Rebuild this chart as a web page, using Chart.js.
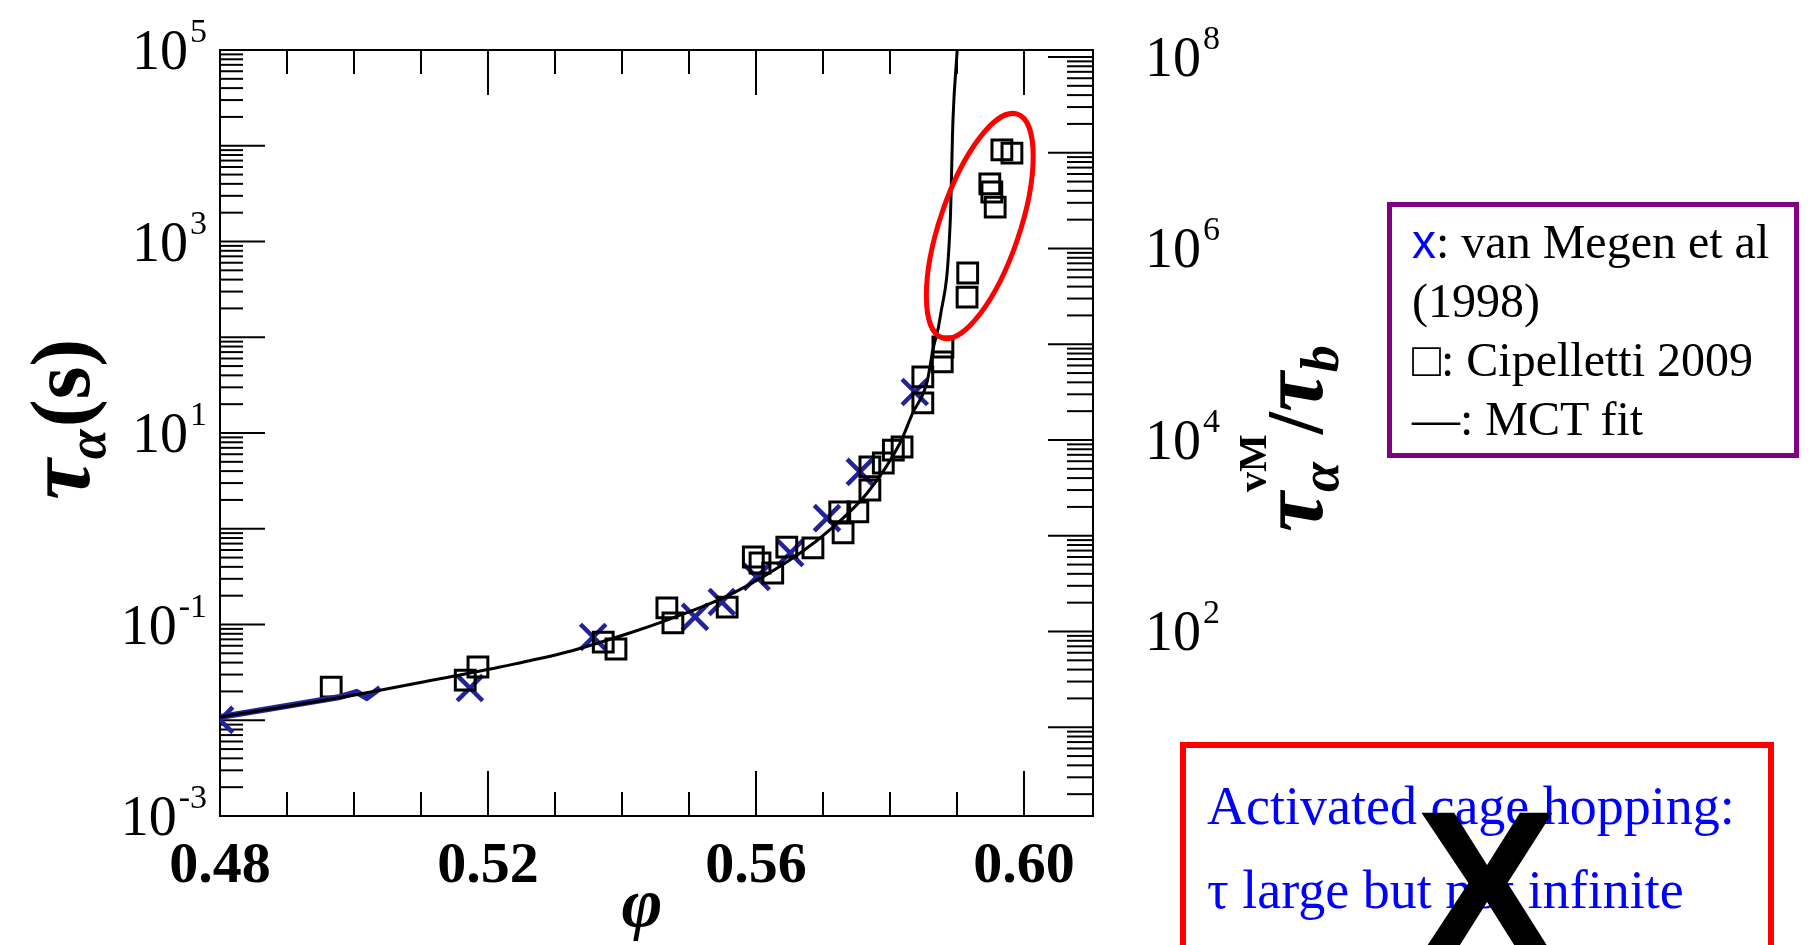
<!DOCTYPE html>
<html>
<head>
<meta charset="utf-8">
<title>tau alpha vs phi</title>
<script src="https://cdn.jsdelivr.net/npm/chart.js@4.4.1/dist/chart.umd.min.js"></script>
<style>
    html, body { margin: 0; padding: 0; background: #fff; }
    #wrap { position: relative; width: 1808px; height: 945px; overflow: hidden; background: #fff; }
    #chart-tau { position: absolute; left: 0; top: 0; }
    .legend-box {
        position: absolute; left: 1387px; top: 202px;
        border: 5px solid #800080; box-sizing: content-box;
        font-family: "Liberation Serif", "Times New Roman", serif; font-size: 48px; line-height: 59px;
        padding: 5px 0 0 20px; color: #000; width: 382px; height: 241px;
    }
    .legend-box .x { font-family: "Liberation Sans", Arial, sans-serif; color: #0000ff; }
    .note-box {
        position: absolute; left: 1180px; top: 742px; width: 582px; height: 260px;
        border: 6px solid #ff0000; color: #0000ff;
        font-family: "Liberation Serif", "Times New Roman", serif; font-size: 54px;
    }
    .note-box .l1 { position: absolute; left: 21px; top: 27px; white-space: nowrap; }
    .note-box .l2 { position: absolute; left: 21px; top: 111px; white-space: nowrap; }
    .big-x {
        position: absolute; left: 1387px; top: 779px; width: 200px; text-align: center;
        font-family: "Liberation Sans", Arial, sans-serif; font-weight: bold; font-size: 215px; line-height: 215px; color: #000;
    }
</style>
</head>
<body>
<div id="wrap">
    <canvas id="chart-tau" width="1808" height="945"></canvas>
    <div class="legend-box">
        <div><span class="x">x</span>: van Megen et al</div>
        <div>(1998)</div>
        <div>□: Cipelletti 2009</div>
        <div>—: MCT fit</div>
    </div>
    <div class="note-box">
        <div class="l1">Activated cage hopping:</div>
        <div class="l2">τ large but not infinite</div>
    </div>
    <div class="big-x">X</div>
</div>

<script>
// axis ticks
var phi_major = [0.48, 0.52, 0.56, 0.60];
var phi_labels = ["0.48", "0.52", "0.56", "0.60"];
var phi_minor = [0.49, 0.50, 0.51, 0.53, 0.54, 0.55, 0.57, 0.58, 0.59];
var tau_label_exp = [5, 3, 1, -1, -3];
var tau_decades = [-3, -2, -1, 0, 1, 2, 3, 4];
var ratio_label_exp = [8, 6, 4, 2];
var ratio_decades = [0, 1, 2, 3, 4, 5, 6, 7, 8];
var log_minor = [2, 3, 4, 5, 6, 7, 8, 9];

// Cipelletti 2009 (squares)
var cip_phi = [0.4966, 0.5166, 0.5185, 0.5372, 0.5391, 0.5467, 0.5476, 0.5557, 0.5596, 0.5606,
    0.5625, 0.5646, 0.5685, 0.5725, 0.5730, 0.5752, 0.5770, 0.5770, 0.5790, 0.5805,
    0.5818, 0.5849, 0.5849, 0.5878, 0.5879, 0.5915, 0.5916, 0.5952, 0.5957, 0.5949,
    0.5967, 0.5982];
var cip_tau = [0.0222, 0.0263, 0.0360, 0.0656, 0.0555, 0.149, 0.104, 0.152, 0.507, 0.439,
    0.345, 0.644, 0.630, 1.50, 0.904, 1.50, 2.54, 4.42, 4.86, 6.64,
    7.14, 20.6, 38.5, 55.2, 79.1, 263, 469, 3289, 2291, 3990,
    9036, 8395];

// van Megen et al 1998 (crosses)
var vm_phi = [0.4800, 0.5173, 0.5357, 0.5509, 0.5549, 0.5601, 0.5651, 0.5706, 0.5755, 0.5837];
var vm_tau = [0.0101, 0.0217, 0.0741, 0.120, 0.172, 0.313, 0.558, 1.29, 3.92, 26.8];
// dense low-phi van Megen points (drawn as a thick blue trace)
var vm_trace_phi = [0.4800, 0.4890, 0.4979, 0.5004, 0.5019, 0.5039];
var vm_trace_tau = [0.0108, 0.01374, 0.0175, 0.0197, 0.0171, 0.0217];

// MCT fit
var mct_phi = [0.4800, 0.4984, 0.5118, 0.5218, 0.5318, 0.5416, 0.5467, 0.5566, 0.5666, 0.5715,
    0.5766, 0.5815, 0.5834, 0.5855, 0.5864, 0.5875, 0.5890, 0.5894, 0.5900, 0.5901];
var mct_tau = [0.0108, 0.0175, 0.0263, 0.0360, 0.0516, 0.0835, 0.111, 0.213, 0.558, 1.04,
    2.36, 7.87, 16.2, 33.3, 73.6, 163, 1679, 18578, 93111, 120000];

// circled points (ellipse centre, in data units)
var ring_phi = 0.5934;
var ring_tau = 1452;

function toXY(xs, ys) {
    return xs.map((v, i) => ({ x: v, y: ys[i] }));
}

function line(ctx, x1, y1, x2, y2) {
    ctx.beginPath();
    ctx.moveTo(x1, y1);
    ctx.lineTo(x2, y2);
    ctx.stroke();
}

// draws "10" with a raised exponent; align = 'right' or 'left' at x
function powLabel(ctx, x, y, exp, align) {
    const base = "10", sup = String(exp);
    ctx.font = '56px "Liberation Serif"';
    const wb = ctx.measureText(base).width;
    ctx.font = '34px "Liberation Serif"';
    const ws = ctx.measureText(sup).width;
    const left = align === 'right' ? x - wb - ws - 2 : x;
    ctx.textAlign = 'left';
    ctx.textBaseline = 'alphabetic';
    ctx.font = '56px "Liberation Serif"';
    ctx.fillText(base, left, y + 19);
    ctx.font = '34px "Liberation Serif"';
    ctx.fillText(sup, left + wb + 2, y - 8);
}

// text rotated -90deg, parts laid out upward from (bx, by); v = offset right of baseline
function rotatedTitle(ctx, bx, by, parts) {
    ctx.save();
    ctx.translate(bx, by);
    ctx.rotate(-Math.PI / 2);
    ctx.textAlign = 'left';
    ctx.textBaseline = 'alphabetic';
    let u = 0, stackStart = 0, stackEnd = 0;
    parts.forEach(p => {
        ctx.font = p.font;
        const w = ctx.measureText(p.text).width;
        let u0 = u;
        if (p.stack) { u0 = stackStart; }
        ctx.fillText(p.text, u0, p.v || 0);
        if (p.stack) {
            u = Math.max(stackEnd, u0 + w);
        } else {
            stackStart = u0;
            stackEnd = u0 + w;
            u = u0 + w + (p.gap || 0);
        }
    });
    ctx.restore();
}

const axesPlugin = {
    id: 'paperAxes',
    beforeDatasetsDraw(chart) {
        const ctx = chart.ctx;
        const a = chart.chartArea;
        const xs = chart.scales.x, ys = chart.scales.y, y2 = chart.scales.y2;
        ctx.save();
        ctx.strokeStyle = '#000';
        ctx.lineWidth = 2;
        ctx.strokeRect(a.left, a.top, a.right - a.left, a.bottom - a.top);

        // phi ticks, bottom and top, pointing in
        phi_major.forEach(v => {
            const px = xs.getPixelForValue(v);
            line(ctx, px, a.bottom, px, a.bottom - 45);
            line(ctx, px, a.top, px, a.top + 45);
        });
        phi_minor.forEach(v => {
            const px = xs.getPixelForValue(v);
            line(ctx, px, a.bottom, px, a.bottom - 24);
            line(ctx, px, a.top, px, a.top + 24);
        });

        // left log ticks
        tau_decades.forEach(d => {
            const p = ys.getPixelForValue(Math.pow(10, d));
            if (d > -3) line(ctx, a.left, p, a.left + 45, p);
            log_minor.forEach(m => {
                const pm = ys.getPixelForValue(m * Math.pow(10, d));
                line(ctx, a.left, pm, a.left + 23, pm);
            });
        });

        // right log ticks (tau / tau_b)
        ratio_decades.forEach(d => {
            const p = y2.getPixelForValue(Math.pow(10, d));
            if (p >= a.top && p <= a.bottom) line(ctx, a.right, p, a.right - 45, p);
            log_minor.forEach(m => {
                const pm = y2.getPixelForValue(m * Math.pow(10, d));
                if (pm >= a.top && pm <= a.bottom) line(ctx, a.right, pm, a.right - 26, pm);
            });
        });
        ctx.restore();
    },
    afterDraw(chart) {
        const ctx = chart.ctx;
        const a = chart.chartArea;
        const xs = chart.scales.x, ys = chart.scales.y, y2 = chart.scales.y2;
        ctx.save();
        ctx.fillStyle = '#000';

        // phi labels
        ctx.font = 'bold 58px "Liberation Serif"';
        ctx.textAlign = 'center';
        ctx.textBaseline = 'alphabetic';
        phi_major.forEach((v, i) => {
            ctx.fillText(phi_labels[i], xs.getPixelForValue(v), a.bottom + 66);
        });

        tau_label_exp.forEach(e => powLabel(ctx, a.left - 13, ys.getPixelForValue(Math.pow(10, e)), e, 'right'));
        ratio_label_exp.forEach(e => powLabel(ctx, a.right + 52, y2.getPixelForValue(Math.pow(10, e)), e, 'left'));

        // x title
        ctx.font = 'italic bold 70px "Liberation Serif"';
        ctx.textAlign = 'center';
        ctx.fillText('φ', 642, 926);

        // left title: tau_alpha (s)
        rotatedTitle(ctx, 89, 500, [
            { text: 'τ', font: 'italic bold 92px "Liberation Serif"' },
            { text: 'α', font: 'italic bold 54px "Liberation Serif"', v: 16, gap: 2 },
            { text: '(s)', font: 'bold 84px "Liberation Serif"' },
        ]);

        // right title: tau_alpha^vM / tau_b
        rotatedTitle(ctx, 1322, 532, [
            { text: 'τ', font: 'italic bold 90px "Liberation Serif"' },
            { text: 'α', font: 'italic bold 54px "Liberation Serif"', v: 16 },
            { text: 'vM', font: 'bold 40px "Liberation Serif"', v: -56, stack: true },
            { text: '/', font: 'bold 80px "Liberation Serif"' },
            { text: 'τ', font: 'italic bold 90px "Liberation Serif"' },
            { text: 'b', font: 'italic bold 54px "Liberation Serif"', v: 16 },
        ]);

        // red ellipse around the late points
        const cx = xs.getPixelForValue(ring_phi);
        const cy = ys.getPixelForValue(ring_tau);
        ctx.strokeStyle = '#ff0000';
        ctx.lineWidth = 5;
        ctx.beginPath();
        ctx.ellipse(cx, cy, 40, 118, 18.6 * Math.PI / 180, 0, 2 * Math.PI);
        ctx.stroke();
        ctx.restore();
    }
};

const ctx = document.getElementById('chart-tau').getContext('2d');
const myChart = new Chart(ctx, {
    type: 'scatter',
    data: {
        datasets: [{
                label: 'MCT fit',
                data: toXY(mct_phi, mct_tau),
                showLine: true,
                borderColor: '#000',
                borderWidth: 3,
                pointRadius: 0,
                cubicInterpolationMode: 'monotone',
            },
            {
                label: 'van Megen (dense)',
                data: toXY(vm_trace_phi, vm_trace_tau),
                showLine: true,
                borderColor: '#24249a',
                borderWidth: 6,
                pointRadius: 0,
            },
            {
                label: 'Cipelletti 2009',
                data: toXY(cip_phi, cip_tau),
                pointStyle: 'rect',
                pointRadius: 14,
                borderColor: '#000',
                backgroundColor: 'rgba(0,0,0,0)',
                borderWidth: 3,
            },
            {
                label: 'van Megen et al (1998)',
                data: toXY(vm_phi, vm_tau),
                pointStyle: 'crossRot',
                pointRadius: 18,
                borderColor: '#22229a',
                borderWidth: 4.5,
            },
        ],
    },
    options: {
        responsive: false,
        animation: false,
        layout: {
            padding: { left: 220, top: 50, right: 715, bottom: 129 }
        },
        scales: {
            x: { type: 'linear', min: 0.48, max: 0.6103, display: false },
            y: { type: 'logarithmic', min: 1e-3, max: 1e5, display: false },
            y2: { type: 'logarithmic', position: 'right', min: 1.183, max: 1.183e8, display: false },
        },
        plugins: {
            legend: { display: false },
            tooltip: { enabled: false },
        },
    },
    plugins: [axesPlugin],
});
</script>
</body>
</html>
